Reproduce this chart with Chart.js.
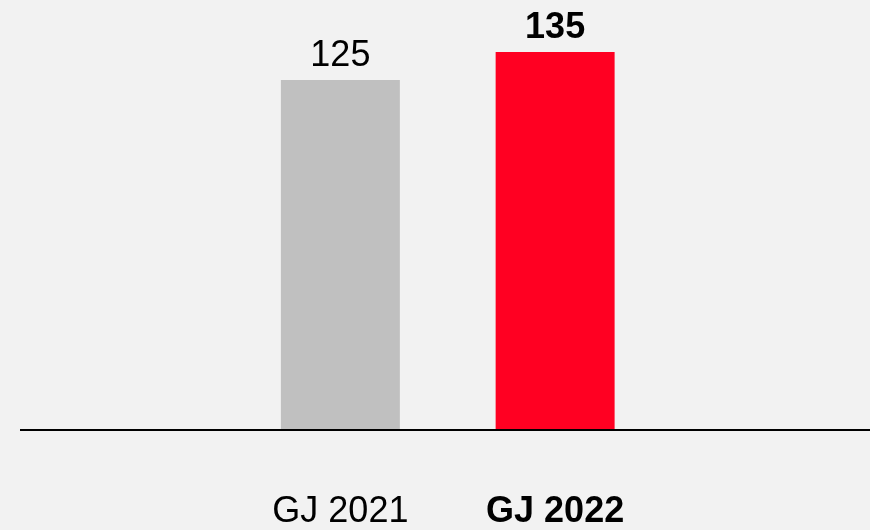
<!DOCTYPE html>
<html>
<head>
<meta charset="utf-8">
<script src="https://cdn.jsdelivr.net/npm/chart.js@4/dist/chart.umd.min.js"></script>
<style>
  html, body { margin: 0; padding: 0; background: #f2f2f2; }
  #wrap { width: 870px; height: 530px; }
</style>
</head>
<body>
<div id="wrap"><canvas id="c" width="870" height="530"></canvas></div>
<script>
const categories = ['GJ 2021', 'GJ 2022'];
const values = [125, 135];
const barColors = ['#c0c0c0', '#ff0022'];
const boldFlags = [false, true];

const FONT = '"Liberation Sans", Arial, Helvetica, sans-serif';

const bgPlugin = {
  id: 'bg',
  beforeDraw(chart) {
    const ctx = chart.ctx;
    ctx.save();
    ctx.fillStyle = '#f2f2f2';
    ctx.fillRect(0, 0, chart.width, chart.height);
    ctx.restore();
  }
};

const baselinePlugin = {
  id: 'baseline',
  afterDatasetsDraw(chart) {
    const ctx = chart.ctx;
    const y = chart.scales.y.getPixelForValue(0);
    ctx.save();
    ctx.strokeStyle = '#000';
    ctx.lineWidth = 2;
    ctx.beginPath();
    ctx.moveTo(20, y);
    ctx.lineTo(chart.width, y);
    ctx.stroke();
    ctx.restore();
  }
};

const valueLabelPlugin = {
  id: 'valueLabels',
  afterDatasetsDraw(chart) {
    const ctx = chart.ctx;
    const meta = chart.getDatasetMeta(0);
    ctx.save();
    ctx.fillStyle = '#000';
    ctx.textAlign = 'center';
    ctx.textBaseline = 'alphabetic';
    meta.data.forEach((bar, i) => {
      ctx.font = (boldFlags[i] ? 'bold ' : '') + '36px ' + FONT;
      ctx.fillText(String(values[i]), bar.x, bar.y - 14);
    });
    ctx.restore();
  }
};

new Chart(document.getElementById('c'), {
  type: 'bar',
  data: {
    labels: categories,
    datasets: [{
      data: values,
      backgroundColor: barColors,
      borderWidth: 0,
      categoryPercentage: 1,
      barPercentage: 0.554
    }]
  },
  options: {
    responsive: false,
    animation: false,
    devicePixelRatio: 1,
    layout: { padding: { left: 233, right: 207.5, top: 10, bottom: 0 } },
    plugins: { legend: { display: false }, tooltip: { enabled: false } },
    scales: {
      x: {
        grid: { display: false, drawTicks: false },
        border: { display: false },
        afterFit(scale) { scale.height = 100; },
        ticks: {
          color: '#000',
          padding: 60,
          maxRotation: 0,
          font: (ctx) => ({ family: FONT, size: 36, lineHeight: 1.2, weight: boldFlags[ctx.index] ? 'bold' : 'normal' })
        }
      },
      y: {
        display: false,
        min: 0,
        max: 150
      }
    }
  },
  plugins: [bgPlugin, baselinePlugin, valueLabelPlugin]
});
</script>
</body>
</html>
